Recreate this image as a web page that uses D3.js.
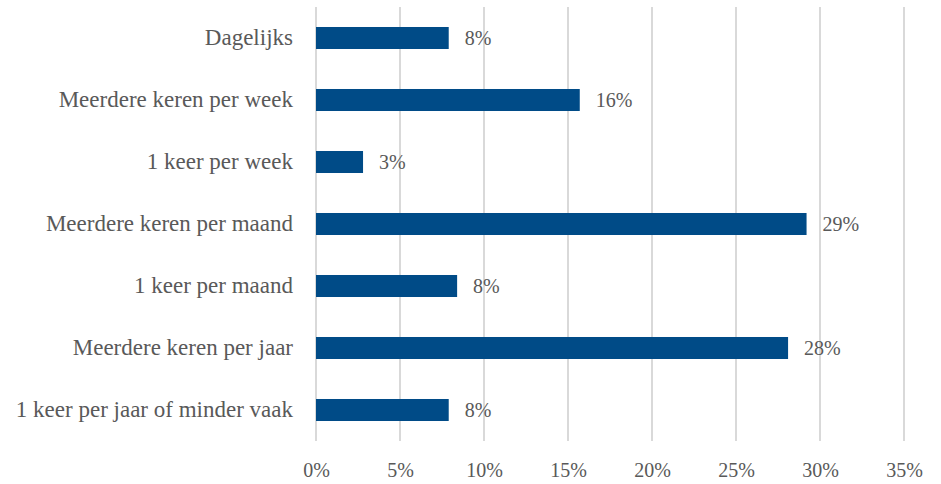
<!DOCTYPE html>
<html>
<head>
<meta charset="utf-8">
<script src="https://cdn.jsdelivr.net/npm/d3@7"></script>
<style>
  body { margin: 0; background: #fff; }
</style>
</head>
<body>
<svg id="chart" width="941" height="484" font-family="Liberation Serif"></svg>
<script>
// Frequency categories, top to bottom
const categories = [
  "Dagelijks",
  "Meerdere keren per week",
  "1 keer per week",
  "Meerdere keren per maand",
  "1 keer per maand",
  "Meerdere keren per jaar",
  "1 keer per jaar of minder vaak"
];
// Share of respondents per category
const shares = [0.079, 0.157, 0.028, 0.292, 0.084, 0.281, 0.079];
// Axis tick values
const ticks = [0, 0.05, 0.10, 0.15, 0.20, 0.25, 0.30, 0.35];

const svg = d3.select("#chart");
const plotLeft = 316, plotRight = 904, plotTop = 7, plotBottom = 441;
const textColor = "#595959";
const serif = "Liberation Serif";

const x = d3.scaleLinear().domain([0, 0.35]).range([plotLeft, plotRight]);
const y = d3.scaleBand().domain(categories).range([plotTop, plotBottom]).paddingInner(0.645).paddingOuter(0.3225);

const pct = d3.format(".0%");
const labelSize = 23;
const numberSize = 20;

// vertical gridlines
svg.append("g")
  .selectAll("line")
  .data(ticks)
  .join("line")
  .attr("x1", d => x(d)).attr("x2", d => x(d))
  .attr("y1", plotTop).attr("y2", plotBottom)
  .attr("stroke", "#d9d9d9")
  .attr("stroke-width", 2);

// x-axis tick labels
const xAxis = d3.axisBottom(x).tickValues(ticks).tickFormat(pct).tickSize(0).tickPadding(0);
const gx = svg.append("g").attr("transform", `translate(0,${plotBottom + 22})`).call(xAxis);
gx.attr("font-family", serif).attr("font-size", numberSize);
gx.select(".domain").remove();
gx.selectAll("text").attr("fill", textColor).attr("dy", "0.71em");

// category labels
const yAxis = d3.axisLeft(y).tickSize(0).tickPadding(0);
const gy = svg.append("g").attr("transform", `translate(${plotLeft - 23},0)`).call(yAxis);
gy.attr("font-family", serif).attr("font-size", labelSize);
gy.select(".domain").remove();
gy.selectAll("text").attr("fill", textColor).attr("dy", "0.32em");

// bars
svg.append("g")
  .selectAll("rect")
  .data(categories)
  .join("rect")
  .attr("x", x(0))
  .attr("y", d => y(d))
  .attr("width", (d, i) => x(shares[i]) - x(0))
  .attr("height", y.bandwidth())
  .attr("fill", "#004b87");

// value labels
svg.append("g")
  .attr("font-family", serif)
  .attr("font-size", numberSize)
  .attr("fill", textColor)
  .selectAll("text")
  .data(categories)
  .join("text")
  .attr("x", (d, i) => x(shares[i]) + 16)
  .attr("y", d => y(d) + y.bandwidth() / 2)
  .attr("dy", "0.35em")
  .text((d, i) => pct(shares[i]));
</script>
</body>
</html>
